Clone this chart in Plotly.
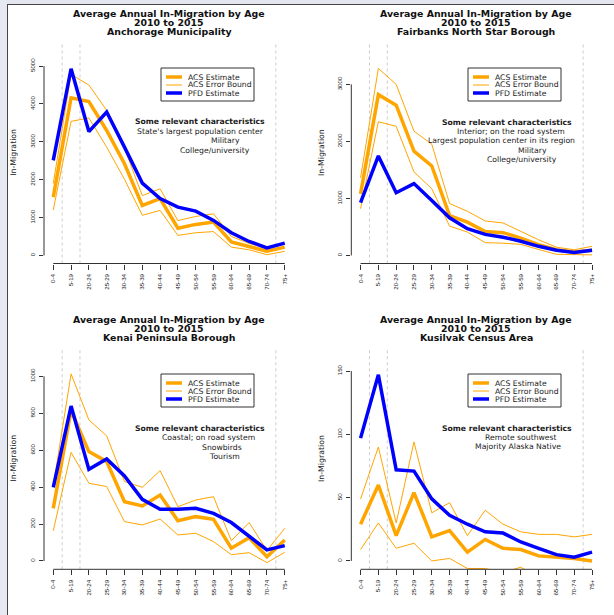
import plotly.graph_objects as go

W, H = 614, 615

ages = ["0-4", "5-19", "20-24", "25-29", "30-34", "35-39", "40-44",
        "45-49", "50-54", "55-59", "60-64", "65-69", "70-74", "75+"]

# Anchorage Municipality
anc_acs = [1540, 4160, 4065, 3300, 2420, 1320, 1500, 720, 820, 880, 360, 240, 110, 220]
anc_upper = [1900, 4780, 4500, 3830, 2830, 1580, 1760, 920, 1030, 1100, 500, 320, 180, 310]
anc_lower = [1200, 3540, 3630, 2860, 2010, 1060, 1190, 530, 600, 630, 220, 150, 20, 110]
anc_pfd = [2510, 4930, 3270, 3785, 2860, 1910, 1500, 1275, 1170, 925, 600, 370, 200, 325]

# Fairbanks North Star Borough
fnsb_acs = [1080, 2820, 2635, 1830, 1570, 700, 585, 420, 400, 305, 190, 100, 60, 90]
fnsb_upper = [1360, 3280, 3000, 2180, 1950, 910, 775, 605, 570, 420, 275, 145, 100, 160]
fnsb_lower = [820, 2345, 2265, 1465, 1170, 515, 410, 225, 215, 195, 105, 20, 15, 10]
fnsb_pfd = [925, 1745, 1100, 1260, 965, 660, 470, 370, 320, 250, 160, 90, 50, 90]

# Kenai Peninsula Borough
kpb_acs = [285, 815, 592, 538, 321, 298, 357, 218, 240, 226, 69, 126, 23, 114]
kpb_upper = [405, 1013, 764, 677, 430, 399, 489, 294, 330, 348, 110, 208, 56, 177]
kpb_lower = [164, 588, 421, 403, 213, 195, 227, 141, 150, 105, 34, 45, -9, 47]
kpb_pfd = [399, 839, 496, 552, 460, 334, 280, 280, 285, 258, 208, 132, 60, 83]

# Kusilvak Census Area
kca_acs = [29, 60, 20, 54, 19, 24, 7, 17, 10, 9, 4, 3, 2, 0]
kca_upper = [49, 90, 30, 94, 38, 46, 20, 40, 29, 23, 21, 21, 19, 21]
kca_lower = [9, 30, 10, 14, 0, 2, -6, -6, -9, -5, -13, -15, -15, -21]
kca_pfd = [97, 147, 72, 71, 49, 36, 29, 23, 22, 15, 10, 5, 3, 7]

anc_ticks = [0, 1000, 2000, 3000, 4000, 5000]
fnsb_ticks = [0, 1000, 2000, 3000]
kpb_ticks = [0, 200, 400, 600, 800, 1000]
kca_ticks = [0, 50, 100, 150]

title_main = "Average Annual In-Migration by Age"
title_period = "2010 to 2015"
areas = ["Anchorage Municipality", "Fairbanks North Star Borough",
         "Kenai Peninsula Borough", "Kusilvak Census Area"]

chars_heading = "Some relevant characteristics"
anc_chars = ["State's largest population center", "Military", "College/university"]
fnsb_chars = ["Interior; on the road system", "Largest population center in its region",
              "Military", "College/university"]
kpb_chars = ["Coastal; on road system", "Snowbirds", "Tourism"]
kca_chars = ["Remote southwest", "Majority Alaska Native"]

legend_labels = ["ACS Estimate", "ACS Error Bound", "PFD Estimate"]

ORANGE = "#FFA500"
BLUE = "#0000FF"
INK = "#1a1a1a"
FONT = "DejaVu Sans"


def px(x):
    return x / W


def py(y):
    return 1 - y / H


# layout geometry (pixels)
panels = [
    dict(acs=anc_acs, up=anc_upper, lo=anc_lower, pfd=anc_pfd, ticks=anc_ticks,
         yr=[-212, 5635], left=44.0, top=42.0, bot=263.5, chars=anc_chars,
         ox=0, oy=0, tys=[13.5, 22.8, 31.8],
         cpos=[(200, 121.7), (200, 131.3), (225.7, 140.3), (215, 150)]),
    dict(acs=fnsb_acs, up=fnsb_upper, lo=fnsb_lower, pfd=fnsb_pfd, ticks=fnsb_ticks,
         yr=[-141, 3743], left=351.3, top=42.0, bot=263.5, chars=fnsb_chars,
         ox=307, oy=0, tys=[13.5, 22.8, 31.8],
         cpos=[(507, 122), (511, 131.7), (501.7, 140.3), (532.3, 150), (521.5, 159)]),
    dict(acs=kpb_acs, up=kpb_upper, lo=kpb_lower, pfd=kpb_pfd, ticks=kpb_ticks,
         yr=[-45, 1153], left=44.0, top=348.0, bot=569.3, chars=kpb_chars,
         ox=0, oy=306, tys=[319.7, 328.8, 337.8],
         cpos=[(200, 428.3), (208.5, 437.7), (222, 447), (224.3, 456)]),
    dict(acs=kca_acs, up=kca_upper, lo=kca_lower, pfd=kca_pfd, ticks=kca_ticks,
         yr=[-6.6, 168.2], left=351.3, top=348.0, bot=569.3, chars=kca_chars,
         ox=307, oy=306, tys=[319.7, 328.8, 337.8],
         cpos=[(506.5, 428.3), (520.7, 437.7), (517.5, 446.7)]),
]
PW = 250.0

fig = go.Figure()
shapes = []
annotations = []

# page frame
shapes.append(dict(type="rect", xref="paper", yref="paper", x0=0, x1=1, y0=py(4), y1=1,
                   fillcolor="#e3e6ee", line=dict(width=0), layer="below"))
shapes.append(dict(type="rect", xref="paper", yref="paper", x0=0, x1=px(7), y0=0, y1=1,
                   fillcolor="#e6e9f1", line=dict(width=0), layer="below"))
shapes.append(dict(type="line", xref="paper", yref="paper", x0=px(7.5), x1=px(7.5),
                   y0=0, y1=py(4), line=dict(color="#444444", width=1)))
shapes.append(dict(type="line", xref="paper", yref="paper", x0=px(7.5), x1=1,
                   y0=py(4.5), y1=py(4.5), line=dict(color="#444444", width=1)))

for i, p in enumerate(panels):
    n = i + 1
    xa = "x" if n == 1 else f"x{n}"
    ya = "y" if n == 1 else f"y{n}"
    xkey = "xaxis" if n == 1 else f"xaxis{n}"
    ykey = "yaxis" if n == 1 else f"yaxis{n}"

    series = [(p["up"], ORANGE, 1), (p["lo"], ORANGE, 1),
              (p["acs"], ORANGE, 3.5), (p["pfd"], BLUE, 3.5)]
    for vals, col, w in series:
        fig.add_trace(go.Scatter(x=ages, y=vals, mode="lines", xaxis=xa, yaxis=ya,
                                 line=dict(color=col, width=w), showlegend=False,
                                 hoverinfo="skip"))

    fig.update_layout(**{
        xkey: dict(domain=[px(p["left"]), px(p["left"] + PW)], anchor=ya,
                   type="category", categoryorder="array", categoryarray=ages,
                   range=[-0.52, len(ages) - 1 + 0.52],
                   showgrid=False, zeroline=False, showline=False,
                   ticks="outside", ticklen=5, tickwidth=1, tickcolor="#333333",
                   tickangle=-90, tickfont=dict(family="Liberation Sans", size=6.2, color=INK),
                   ticklabelstandoff=2),
        ykey: dict(domain=[py(p["bot"]), py(p["top"])], anchor=xa,
                   range=p["yr"], tickvals=p["ticks"], ticktext=[str(t) for t in p["ticks"]],
                   showgrid=False, zeroline=False, showline=False,
                   ticks="outside", ticklen=4, tickwidth=1, tickcolor="#333333",
                   tickangle=-90, tickfont=dict(family="Liberation Sans", size=6.2, color=INK),
                   ticklabelstandoff=2),
    })

    # R-style axis lines spanning first to last tick
    shapes.append(dict(type="line", xref=xa, yref=f"{ya} domain", x0=0, x1=len(ages) - 1,
                       y0=0, y1=0, line=dict(color="#333333", width=1)))
    shapes.append(dict(type="line", xref=f"{xa} domain", yref=ya, x0=0, x1=0,
                       y0=p["ticks"][0], y1=p["ticks"][-1], line=dict(color="#333333", width=1)))
    # dotted separators
    for xv in [0.5, 1.5, len(ages) - 1.5]:
        shapes.append(dict(type="line", xref=xa, yref=f"{ya} domain", x0=xv, x1=xv,
                           y0=0, y1=1, layer="below",
                           line=dict(color="#cccccc", width=1, dash="dot")))

    # titles
    cx = p["left"] + PW / 2
    for txt, ty in zip([title_main, title_period, areas[i]], p["tys"]):
        annotations.append(dict(xref="paper", yref="paper", x=px(cx), y=py(ty),
                                text=f"<b>{txt}</b>", showarrow=False,
                                xanchor="center", yanchor="middle",
                                font=dict(family=FONT, size=9.4, color="#111111")))
    # y title
    annotations.append(dict(xref="paper", yref="paper", x=px(p["left"] - 30), y=py((p["top"] + p["bot"]) / 2),
                            text="In-Migration", textangle=-90, showarrow=False,
                            xanchor="center", yanchor="middle",
                            font=dict(family=FONT, size=7.8, color=INK)))

    # legend box
    ox, oy = p["ox"], p["oy"]
    shapes.append(dict(type="rect", xref="paper", yref="paper",
                       x0=px(161 + ox), x1=px(254 + ox), y0=py(101 + oy), y1=py(68 + oy),
                       fillcolor="white", line=dict(color="#333333", width=1)))
    for (lab, col, w), ly in zip([(legend_labels[0], ORANGE, 3.5),
                                  (legend_labels[1], ORANGE, 1),
                                  (legend_labels[2], BLUE, 3.5)], [77, 85, 93]):
        shapes.append(dict(type="line", xref="paper", yref="paper",
                           x0=px(166 + ox), x1=px(182 + ox), y0=py(ly + oy), y1=py(ly + oy),
                           line=dict(color=col, width=w)))
        annotations.append(dict(xref="paper", yref="paper", x=px(186 + ox), y=py(ly + oy),
                                text=lab, showarrow=False, xanchor="left", yanchor="middle",
                                font=dict(family=FONT, size=7.7, color=INK)))

    # characteristics
    texts = [f"<b>{chars_heading}</b>"] + p["chars"]
    for txt, (tx, ty) in zip(texts, p["cpos"]):
        annotations.append(dict(xref="paper", yref="paper", x=px(tx), y=py(ty),
                                text=txt, showarrow=False, xanchor="center", yanchor="middle",
                                font=dict(family=FONT, size=7.7, color=INK)))

fig.update_layout(width=W, height=H, margin=dict(l=0, r=0, t=0, b=0),
                  paper_bgcolor="white", plot_bgcolor="white",
                  showlegend=False, shapes=shapes, annotations=annotations,
                  font=dict(family=FONT))

fig.write_html("out.html", config={"displayModeBar": False, "staticPlot": True},
               post_script="document.body.style.margin='0px';document.body.style.overflow='hidden';")
